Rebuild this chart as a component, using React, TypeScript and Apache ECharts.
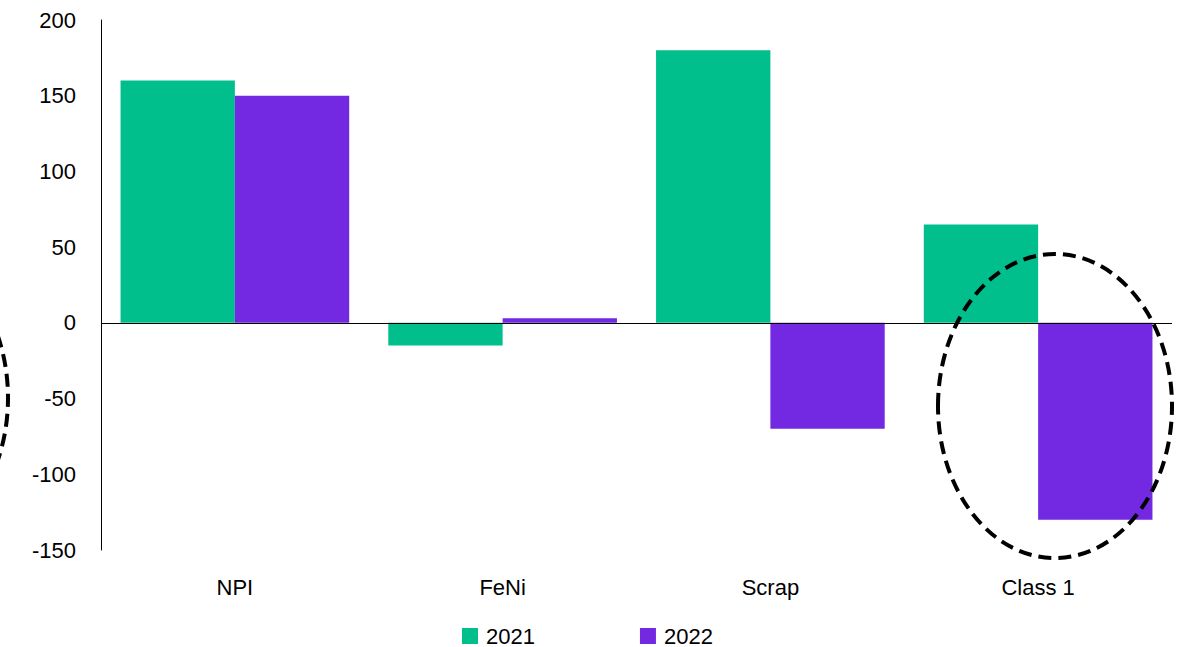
import React, { useEffect, useRef } from "react";
import * as echarts from "echarts";

const categories = ["NPI", "FeNi", "Scrap", "Class 1"];
const series2021 = [160, -15, 180, 65];
const series2022 = [150, 3, -70, -130];
const yTicks = { min: -150, max: 200, interval: 50 };

const FONT = "'Liberation Sans', Arial, sans-serif";

export default function App() {
  const ref = useRef<HTMLDivElement>(null);
  useEffect(() => {
    if (!ref.current) return;
    const chart = echarts.init(ref.current, null, { renderer: "svg" });
    chart.setOption({
      animation: false,
      backgroundColor: "#ffffff",
      grid: { left: 101, right: 13, top: 20, bottom: 97, containLabel: false },
      legend: {
        left: 462,
        top: 624,
        padding: 0,
        icon: "rect",
        itemWidth: 16,
        itemHeight: 16,
        itemGap: 105,
        textStyle: { fontFamily: FONT, fontSize: 22, color: "#000", padding: [0, 0, 0, 3], lineHeight: 24 },
        data: ["2021", "2022"],
      },
      xAxis: {
        type: "category",
        data: categories,
        axisLine: { show: false, onZero: false },
        axisTick: { show: false },
        axisLabel: { fontFamily: FONT, fontSize: 22, color: "#000", margin: 26 },
      },
      yAxis: {
        type: "value",
        min: yTicks.min,
        max: yTicks.max,
        interval: yTicks.interval,
        axisLine: { show: true, lineStyle: { color: "#000", width: 1 } },
        axisTick: { show: false },
        splitLine: { show: false },
        axisLabel: { fontFamily: FONT, fontSize: 22, color: "#000", margin: 25 },
      },
      series: [
        {
          name: "2021",
          type: "bar",
          data: series2021,
          itemStyle: { color: "#00BF8C" },
          barGap: "0%",
          barCategoryGap: "14.6%",
          markLine: {
            silent: true,
            symbol: ["none", "none"],
            label: { show: false },
            lineStyle: { color: "#000", width: 1, type: "solid" },
            data: [{ yAxis: 0 }],
            z: 5,
          },
        },
        {
          name: "2022",
          type: "bar",
          data: series2022,
          itemStyle: { color: "#7328E1" },
          barGap: "0%",
          barCategoryGap: "14.6%",
        },
      ],
      graphic: [
        {
          type: "ellipse",
          shape: { cx: 1055, cy: 406, rx: 117, ry: 152 },
          style: { fill: "none", stroke: "#000", lineWidth: 4, lineDash: [13, 7] },
          z: 100,
        },
        {
          type: "ellipse",
          shape: { cx: -109, cy: 398, rx: 117, ry: 152 },
          style: { fill: "none", stroke: "#000", lineWidth: 4, lineDash: [13, 7] },
          z: 100,
        },
      ],
    });
    return () => chart.dispose();
  }, []);
  return <div ref={ref} style={{ width: 1185, height: 647, position: "absolute", left: 0, top: 0 }} />;
}
